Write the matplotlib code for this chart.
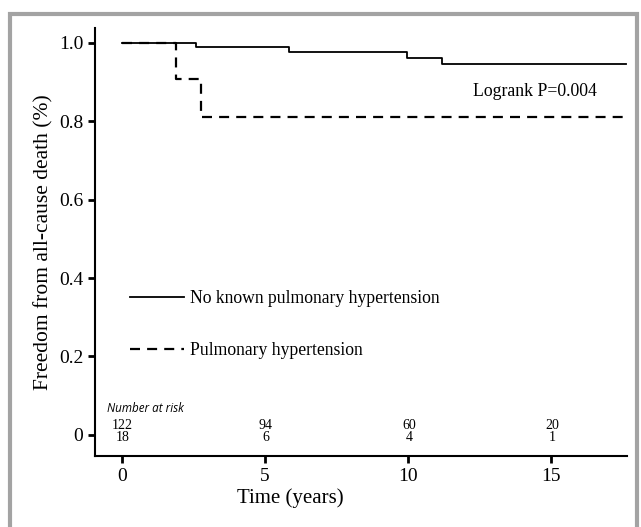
import numpy as np
import matplotlib.pyplot as plt
from matplotlib.patches import Rectangle

# Kaplan-Meier steps
t_no_ph = [0, 2.6, 5.85, 9.95, 11.2, 17.6]
s_no_ph = [1.0, 0.99, 0.978, 0.962, 0.945, 0.945]
t_ph = [0, 1.9, 2.76, 17.6]
s_ph = [1.0, 0.908, 0.81, 0.81]

risk_times = [0, 5, 10, 15]
risk_no_ph = [122, 94, 60, 20]
risk_ph = [18, 6, 4, 1]

serif = 'Liberation Serif'

fig = plt.figure(figsize=(6.41, 5.27), dpi=100)
ax = fig.add_axes([95/641, 71/527, (627-95)/641, (456-28)/527])

ax.step(t_no_ph, s_no_ph, where='post', color='black', lw=1.3,
        label='No known pulmonary hypertension')
ax.step(t_ph, s_ph, where='post', color='black', lw=1.6, dashes=[4.5, 3.2],
        label='Pulmonary hypertension')

ax.set_xlim(-0.93, 17.65)
ax.set_ylim(-0.054, 1.038)
ax.set_xticks([0, 5, 10, 15])
ax.set_yticks([0, 0.2, 0.4, 0.6, 0.8, 1.0])
ax.set_yticklabels(['0', '0.2', '0.4', '0.6', '0.8', '1.0'])
for s in ['top', 'right']:
    ax.spines[s].set_visible(False)
for s in ['left', 'bottom']:
    ax.spines[s].set_linewidth(1.5)
ax.tick_params(width=2, length=5, labelsize=14)
for lab in ax.get_xticklabels() + ax.get_yticklabels():
    lab.set_fontfamily(serif)

ax.set_xlabel('Time (years)', fontsize=15, family=serif)
ax.xaxis.set_label_coords(0.368, -0.075)
ax.set_ylabel('Freedom from all-cause death (%)', fontsize=15.5, family=serif)
ax.yaxis.set_label_coords(-0.078, 0.5)

ax.text(14.45, 0.876, 'Logrank P=0.004', fontsize=12.8, family=serif,
        ha='center', va='center')

# number at risk table
ax.text(-0.5, 0.066, 'Number at risk', fontsize=8.4, family='Open Sans',
        style='italic', ha='left', va='center')
for t, a, b in zip(risk_times, risk_no_ph, risk_ph):
    ax.text(t + 0.03, 0.025, str(a), fontsize=10, family=serif, ha='center', va='center')
    ax.text(t + 0.05, -0.006, str(b), fontsize=10, family=serif, ha='center', va='center')

ax.legend(loc='upper left', bbox_to_anchor=(0.052, 0.405), frameon=False,
          prop={'family': serif, 'size': 12.7}, handlelength=3.1,
          handletextpad=0.3, labelspacing=2.0, borderaxespad=0)

# grey frame around the figure
fig.patches.append(Rectangle((10/641, -0.1), 627/641, 1.1 - 13.5/527,
                             transform=fig.transFigure, fill=False,
                             edgecolor='#a3a3a3', lw=3))

fig.savefig('out.png', dpi=100)
